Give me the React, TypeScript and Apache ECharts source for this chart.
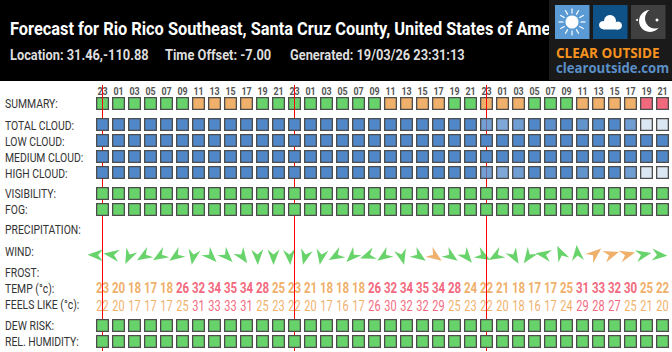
import React, { useEffect, useRef } from "react";
import * as echarts from "echarts";

const hours = ["23","01","03","05","07","09","11","13","15","17","19","21","23","01","03","05","07","09","11","13","15","17","19","21","23","01","03","05","07","09","11","13","15","17","19","21"];
const dayStarts = [0, 12, 24];
// g good, o ok, r bad
const summary = "ggggggoooogg" + "ggggggoooogg" + "oooggg" + "oooorr";
const totalCloud = [100,100,100,100,100,100,100,100,100,100,100,100,100,100,100,100,100,100,100,100,100,100,100,100,80,73,82,100,93,100,90,96,100,82,20,20];
const lowCloud = new Array(36).fill(100);
const mediumCloud = new Array(36).fill(100);
const highCloud = [...totalCloud];
const visibility = new Array(36).fill("g");
const fog = new Array(36).fill("g");
const dewRisk = new Array(36).fill("g");
const humidity = new Array(36).fill("g");
const windDeg = [272,278,205,238,238,235,190,135,135,145,178,180,175,195,190,240,225,250,235,165,125,125,125,140,120,240,150,215,280,335,355,50,72,75,78,95,95].slice(0,36);
const windOrange = [21, 31, 32, 33];
const temp = [23,20,18,17,18,26,32,34,35,34,28,25,23,21,18,18,18,26,32,34,35,34,28,24,22,21,18,17,17,25,31,33,32,30,25,22];
const feels = [22,20,17,17,17,25,31,33,33,31,25,23,22,20,17,16,17,26,30,32,32,29,25,23,22,20,18,16,17,24,29,28,27,25,21,20];
const rowLabels: [string, number][] = [
  ["SUMMARY:",104],["TOTAL CLOUD:",125.5],["LOW CLOUD:",141.5],["MEDIUM CLOUD:",157.5],["HIGH CLOUD:",173.5],
  ["VISIBILITY:",193.5],["FOG:",209.5],["PRECIPITATION:",230],["WIND:",252],["FROST:",273],
  ["TEMP (°c):",288.5],["FEELS LIKE (°c):",305],["DEW RISK:",325.5],["REL. HUMIDITY:",341.5],
];
const titleText = "Forecast for Rio Rico Southeast, Santa Cruz County, United States of America";
const subTexts: [string, number][] = [["Location: 31.46,-110.88",10],["Time Offset: -7.00",165],["Generated: 19/03/26 23:31:13",290]];

const GREEN = "#68d36a", ORANGE = "#efb06c", RED = "#f2697e", EDGE = "#4d4d4d";
const codeFill: Record<string,string> = { g: GREEN, o: ORANGE, r: RED };
const cloudFill = (v: number) => `rgba(80,135,200,${v / 100})`;

const cellSeries = (y: number, fills: string[], z: number) => ({
  type: "scatter", z, symbol: "rect", symbolSize: 11.7, silent: true,
  data: fills.map((c, i) => ({ value: [i, y], itemStyle: { color: c, borderColor: EDGE, borderWidth: 1.3, opacity: 1 } })),
});
// Narrowed text row: Roboto squeezed to the condensed width of the original.
const textRow = (y: number, vals: (number | string)[], weight: string, size: number, sx: number, colour: (v: any) => string) => ({
  type: "custom", z: 1, silent: true,
  data: vals.map((_, i) => [i, y]),
  renderItem: (p: any, api: any) => {
    const c = api.coord([api.value(0), api.value(1)]);
    const v = vals[p.dataIndex];
    return {
      type: "text", x: c[0], y: c[1], scaleX: sx,
      style: { text: String(v), align: "center", verticalAlign: "middle", fontFamily: "Roboto", fontWeight: weight, fontSize: size, fill: colour(v) },
    };
  },
});
const tempColour = (v: number) => (v >= 26 ? RED : ORANGE);

const ARROW = [[0,-10],[6,5.5],[0,0.5],[-6,5.5]];

function logoGraphics() {
  const els: any[] = [
    { type: "rect", z: 20, shape: { x: 549, y: 0, width: 123, height: 80 }, style: { fill: "#1a1a1a" } },
    { type: "rect", z: 21, shape: { x: 555, y: 5, width: 34.5, height: 34 }, style: { fill: "#5b9bd5" } },
    { type: "rect", z: 21, shape: { x: 593, y: 5, width: 34.5, height: 34 }, style: { fill: "#0f5288" } },
    { type: "rect", z: 21, shape: { x: 631, y: 5, width: 34.5, height: 34 }, style: { fill: "#404040" } },
    { type: "circle", z: 22, shape: { cx: 572, cy: 22, r: 6.5 }, style: { fill: "#fff" } },
    { type: "circle", z: 22, shape: { cx: 603, cy: 25, r: 4 }, style: { fill: "#fff" } },
    { type: "circle", z: 22, shape: { cx: 610, cy: 21, r: 6 }, style: { fill: "#fff" } },
    { type: "circle", z: 22, shape: { cx: 618, cy: 25.5, r: 4 }, style: { fill: "#fff" } },
    { type: "rect", z: 22, shape: { x: 603, y: 24, width: 15, height: 5.5 }, style: { fill: "#fff" } },
    { type: "circle", z: 22, shape: { cx: 650, cy: 21, r: 11 }, style: { fill: "#fff" } },
    { type: "circle", z: 23, shape: { cx: 655, cy: 18.5, r: 10 }, style: { fill: "#404040" } },
    { type: "circle", z: 24, shape: { cx: 657, cy: 20, r: 1.5 }, style: { fill: "#fff" } },
    { type: "circle", z: 24, shape: { cx: 637, cy: 20, r: 1 }, style: { fill: "#fff" } },
    { type: "text", z: 22, x: 556, y: 52.5, scaleX: 0.93, style: { text: "CLEAR OUTSIDE", fontFamily: "Open Sans", fontWeight: "bold", fontSize: 14.5, fill: "#f7931e", verticalAlign: "middle" } },
    { type: "text", z: 22, x: 556, y: 67.5, scaleX: 0.94, style: { text: "clearoutside.com", fontFamily: "Open Sans", fontWeight: "bold", fontSize: 14, fill: "#5b8fc7", verticalAlign: "middle" } },
  ];
  for (let k = 0; k < 12; k++) {
    const a = (k * Math.PI) / 6;
    els.push({ type: "line", z: 22, shape: { x1: 572 + 8.5 * Math.cos(a), y1: 22 + 8.5 * Math.sin(a), x2: 572 + 13.5 * Math.cos(a), y2: 22 + 13.5 * Math.sin(a) }, style: { stroke: "#fff", lineWidth: 1.2 } });
  }
  return els;
}

export default function App() {
  const ref = useRef<HTMLDivElement>(null);
  useEffect(() => {
    const chart = echarts.init(ref.current!, undefined, { renderer: "svg" });
    const codes = (a: string[] | string) => Array.from(a).map((c) => codeFill[c as string]);
    const series: any[] = [
      ...dayStarts.map((c) => ({
        type: "line", z: 3, symbol: "none", silent: true, clip: false,
        lineStyle: { color: "#f00", width: 1 },
        data: [[c, 85], [c, 351]],
      })),
      cellSeries(103.5, codes(summary), 2),
      cellSeries(124.5, totalCloud.map(cloudFill), 4),
      cellSeries(140.5, lowCloud.map(cloudFill), 4),
      cellSeries(156.5, mediumCloud.map(cloudFill), 4),
      cellSeries(172.5, highCloud.map(cloudFill), 4),
      cellSeries(193.5, codes(visibility), 4),
      cellSeries(209.5, codes(fog), 4),
      cellSeries(325.5, codes(dewRisk), 4),
      cellSeries(341.5, codes(humidity), 4),
      textRow(91, hours, "bold", 10.5, 0.85, () => "#555"),
      textRow(288.5, temp, "bold", 14, 0.82, tempColour),
      textRow(305.5, feels, "normal", 14, 0.78, tempColour),
      {
        type: "custom", z: 2, silent: true,
        data: windDeg.map((d, i) => [i, 255, d]),
        renderItem: (p: any, api: any) => {
          const c = api.coord([api.value(0), api.value(1)]);
          return {
            type: "polygon", x: c[0] - 5, y: c[1], rotation: (-api.value(2) * Math.PI) / 180,
            shape: { points: ARROW },
            style: { fill: windOrange.includes(p.dataIndex) ? ORANGE : GREEN },
          };
        },
      },
    ];
    chart.setOption({
      animation: false,
      backgroundColor: "#fff",
      grid: { left: 94.5, top: 0, width: 576, height: 352 },
      xAxis: {
        type: "category", data: hours,
        axisLine: { show: false }, axisTick: { show: false }, splitLine: { show: false }, axisLabel: { show: false },
      },
      yAxis: { type: "value", min: 0, max: 352, inverse: true, show: false },
      series,
      graphic: [
        { type: "rect", z: 10, shape: { x: 0, y: 0, width: 672, height: 81 }, style: { fill: "#000" } },
        { type: "text", z: 11, x: 10, y: 29, scaleX: 0.91, style: { text: titleText, fontFamily: "Roboto", fontWeight: "bold", fontSize: 18, fill: "#fff", verticalAlign: "middle" } },
        ...subTexts.map(([t, x]) => ({ type: "text", z: 11, x, y: 55, scaleX: 0.885, style: { text: t, fontFamily: "Roboto", fontWeight: "bold", fontSize: 14.5, fill: "#ddd", verticalAlign: "middle" } })),
        ...rowLabels.map(([t, y]) => ({ type: "text", z: 11, x: 5, y, scaleX: 0.8, style: { text: t, fontFamily: "Roboto", fontSize: 13, fill: "#333", verticalAlign: "middle" } })),
        ...logoGraphics(),
      ],
    });
    return () => chart.dispose();
  }, []);
  return <div ref={ref} style={{ position: "absolute", left: 0, top: 0, width: 672, height: 352 }} />;
}
